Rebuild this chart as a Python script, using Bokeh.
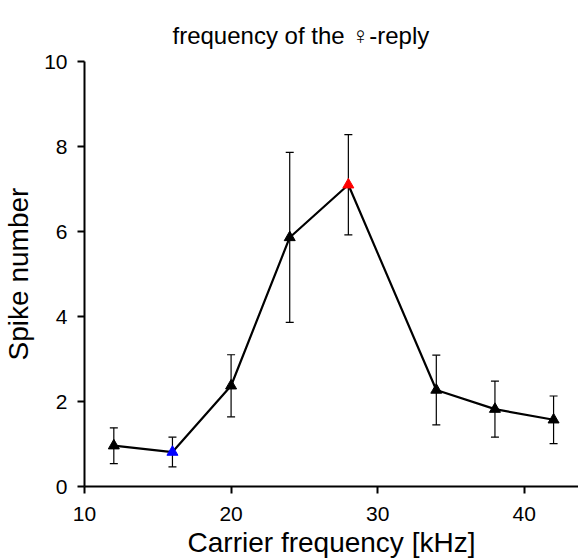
from bokeh.plotting import figure
from bokeh.models import ColumnDataSource, Whisker, TeeHead, Range1d, FixedTicker, Title
from bokeh.embed import file_html
from bokeh.resources import INLINE

freq = [12, 16, 20, 24, 28, 34, 38, 42]
spikes = [0.96, 0.81, 2.37, 5.86, 7.1, 2.27, 1.82, 1.57]
err = [0.42, 0.35, 0.73, 2.0, 1.18, 0.82, 0.66, 0.56]
colors = ["black", "blue", "black", "black", "red", "black", "black", "black"]
x_ticks = [10, 20, 30, 40]
y_ticks = [0, 2, 4, 6, 8, 10]

FONT = "Liberation Sans"

src = ColumnDataSource(data=dict(
    x=freq, y=spikes,
    upper=[s + e for s, e in zip(spikes, err)],
    lower=[s - e for s, e in zip(spikes, err)],
    c=colors,
))

p = figure(width=570, height=550, output_backend="svg", toolbar_location=None,
           x_range=Range1d(10, 43.7), y_range=Range1d(0, 10),
           min_border_left=76, min_border_right=0, min_border_top=61, min_border_bottom=64)
p.frame_width = 494
p.frame_height = 425

p.title = Title(text="frequency of the \u2640-reply", align="left", offset=88,
                text_font=FONT, text_font_size="24px",
                text_font_style="normal", text_color="black", standoff=25)

p.outline_line_color = None
p.grid.visible = False
p.background_fill_color = "white"
p.border_fill_color = "white"

for ax in (p.xaxis[0], p.yaxis[0]):
    ax.axis_line_width = 2
    ax.axis_line_color = "black"
    ax.major_tick_line_width = 2
    ax.major_tick_out = 7
    ax.major_tick_in = 0
    ax.minor_tick_line_color = None
    ax.major_label_text_font = FONT
    ax.major_label_text_font_size = "21px"
    ax.major_label_text_color = "black"
    ax.axis_label_text_font = FONT
    ax.axis_label_text_font_size = "28px"
    ax.axis_label_text_font_style = "normal"
    ax.axis_label_text_color = "black"

p.xaxis.ticker = FixedTicker(ticks=x_ticks)
p.yaxis.ticker = FixedTicker(ticks=y_ticks)
p.xaxis.axis_label = "Carrier frequency [kHz]"
p.yaxis.axis_label = "Spike number"
p.xaxis.major_label_standoff = 13
p.yaxis.major_label_standoff = 10
p.xaxis.axis_label_standoff = 3
p.yaxis.axis_label_standoff = 7

w = Whisker(source=src, base="x", upper="upper", lower="lower",
            line_color="black", line_width=1.2,
            upper_head=TeeHead(size=8, line_color="black", line_width=1.2),
            lower_head=TeeHead(size=8, line_color="black", line_width=1.2))
p.add_layout(w)

p.line("x", "y", source=src, line_color="black", line_width=2.2)
p.scatter("x", "y", source=src, marker="triangle", size=11,
          fill_color="c", line_color="c")

open("out.html", "w").write(file_html(p, INLINE))
